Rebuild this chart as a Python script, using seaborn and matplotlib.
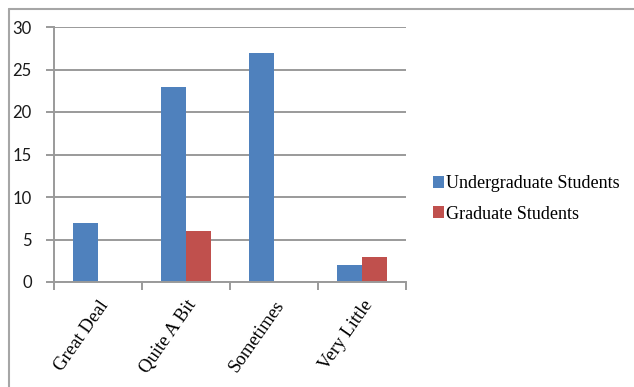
import matplotlib
matplotlib.use("Agg")
import matplotlib.pyplot as plt
import seaborn as sns
import pandas as pd
from matplotlib.lines import Line2D
from matplotlib.patches import Patch

categories = ["Great Deal", "Quite A Bit", "Sometimes", "Very Little"]
undergrad = [7, 23, 27, 2]
grad = [0, 6, 0, 3]
series_names = ["Undergraduate Students", "Graduate Students"]
yticks = [0, 5, 10, 15, 20, 25, 30]

colors = ["#4F81BD", "#C0504D"]
gray = "#9A9A9A"

df = pd.DataFrame({
    "Category": categories * 2,
    "Value": undergrad + grad,
    "Series": [series_names[0]] * len(categories) + [series_names[1]] * len(categories),
})

sns.set_theme(style="white")
W, H = 634, 387
fig = plt.figure(figsize=(W / 100, H / 100), dpi=100)
ax = fig.add_axes([54 / W, 1 - 282 / H, (406 - 54) / W, (282 - 27) / H])

sns.barplot(data=df, x="Category", y="Value", hue="Series", palette=colors,
            width=0.568, dodge=True, ax=ax, legend=False, saturation=1,
            edgecolor="none", linewidth=0)

ax.set_xlim(-0.5, len(categories) - 0.5)
ax.set_ylim(0, 30)
ax.set_yticks(yticks)
ax.set_yticklabels([str(v) for v in yticks], fontfamily="Lato", fontsize=12, color="#1a1a1a")
ax.set_xlabel("")
ax.set_ylabel("")

ax.yaxis.grid(True, color=gray, linewidth=1.4)
ax.set_axisbelow(True)
for s in ["top", "right"]:
    ax.spines[s].set_visible(False)
for s in ["left", "bottom"]:
    ax.spines[s].set_color(gray)
    ax.spines[s].set_linewidth(1.4)

ax.tick_params(axis="y", direction="out", length=6, width=1.4, color=gray, pad=10, left=True)
ax.set_xticks(range(len(categories)))
ax.set_xticklabels(categories, rotation=55, ha="right", rotation_mode="anchor",
                   fontfamily="Liberation Serif", fontsize=13.5, color="#000000")
ax.tick_params(axis="x", which="major", length=0, pad=11)
ax.set_xticks([i - 0.5 for i in range(len(categories) + 1)], minor=True)
ax.tick_params(axis="x", which="minor", direction="out", length=6, width=1.4, color=gray, bottom=True)

handles = [Patch(facecolor=c, edgecolor="none") for c in colors]
fig.legend(handles, series_names, loc="center left",
           bbox_to_anchor=(424 / W, 1 - 199 / H), frameon=False,
           prop={"family": "Liberation Serif", "size": 13.1},
           handlelength=0.6, handleheight=0.6, handletextpad=0.12,
           labelspacing=0.72, borderpad=0, labelcolor="#000000")

# outer frame (top and left edges visible)
fig.add_artist(Line2D([9 / W, 1], [1 - 9 / H, 1 - 9 / H], color="#A6A6A6", linewidth=1.5, transform=fig.transFigure))
fig.add_artist(Line2D([9 / W, 9 / W], [1 - 9 / H, 0], color="#A6A6A6", linewidth=1.5, transform=fig.transFigure))

fig.savefig("out.png", dpi=100)
